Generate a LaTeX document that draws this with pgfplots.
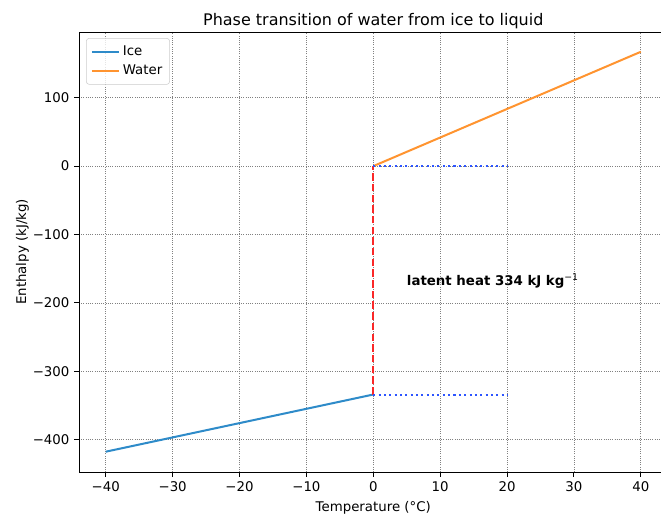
\documentclass[border=0pt]{standalone}
\usepackage{fontspec}
\setmainfont{DejaVu Sans}
\usepackage{pgfplots}
\pgfplotsset{compat=1.18}
\definecolor{iceblue}{HTML}{2E8BC9}
\definecolor{waterorange}{HTML}{FF9430}
\definecolor{dotblue}{RGB}{45,85,255}
\definecolor{dashred}{RGB}{250,40,40}
\begin{document}
\begin{tikzpicture}
\begin{axis}[
  scale only axis,
  width=423.7pt, height=316.8pt,
  xmin=-44, xmax=44, ymin=-447.25, ymax=196.25,
  font=\fontsize{9.6}{11.5}\selectfont,
  xtick={-40,-30,-20,-10,0,10,20,30,40},
  xticklabels={−40,−30,−20,−10,0,10,20,30,40},
  ytick={-400,-300,-200,-100,0,100},
  yticklabels={−400,−300,−200,−100,0,100},
  tick align=outside, major tick length=3.4pt,
  tick style={black, line width=0.6pt},
  axis line style={line width=0.6pt},
  xtick pos=bottom, ytick pos=left,
  grid=major,
  major grid style={black!50, line width=0.55pt, dash pattern=on 0.6pt off 1.0pt},
  title={Phase transition of water from ice to liquid},
  title style={font=\fontsize{11.5}{13.8}\selectfont, yshift=-7pt},
  xlabel={Temperature (°C)},
  ylabel={Enthalpy (kJ/kg)},
  ylabel shift=-4pt,
  legend style={at={(0.012,0.986)}, anchor=north west, draw=black!20, rounded corners=2pt, fill=white, fill opacity=0.8, text opacity=1, font=\fontsize{9.6}{11.5}\selectfont, row sep=1.5pt, inner sep=3.3pt},
  legend cell align=left,
  legend image code/.code={\draw[#1] (0pt,0pt) -- (19.5pt,0pt);},
]
\addplot[iceblue, line width=1.45pt] coordinates {(-40,-417.6) (-30,-396.7) (-20,-375.8) (-10,-354.9) (0,-334)};
\addlegendentry{Ice}
\addplot[waterorange, line width=1.45pt] coordinates {(0,0) (10,41.8) (20,83.6) (30,125.4) (40,167.2)};
\addlegendentry{Water}
\addplot[dashred, line width=1.45pt, dash pattern=on 5.4pt off 2.3pt, forget plot] coordinates {(0,-334) (0,0)};
\addplot[dotblue, line width=1.45pt, dash pattern=on 1.45pt off 2.4pt, line cap=butt, forget plot] coordinates {(0,0) (20,0)};
\addplot[dotblue, line width=1.45pt, dash pattern=on 1.45pt off 2.4pt, line cap=butt, forget plot] coordinates {(0,-334) (20,-334)};
\node[anchor=base west, font=\bfseries\fontsize{9.6}{11.5}\selectfont, inner sep=0pt] at (axis cs:5,-174) {latent heat 334 kJ kg\textsuperscript{\mdseries −1}};
\end{axis}
\pgfresetboundingbox
\useasboundingbox (-56.9pt,-31.7pt) rectangle (419.0pt,339.8pt);
\end{tikzpicture}
\end{document}
